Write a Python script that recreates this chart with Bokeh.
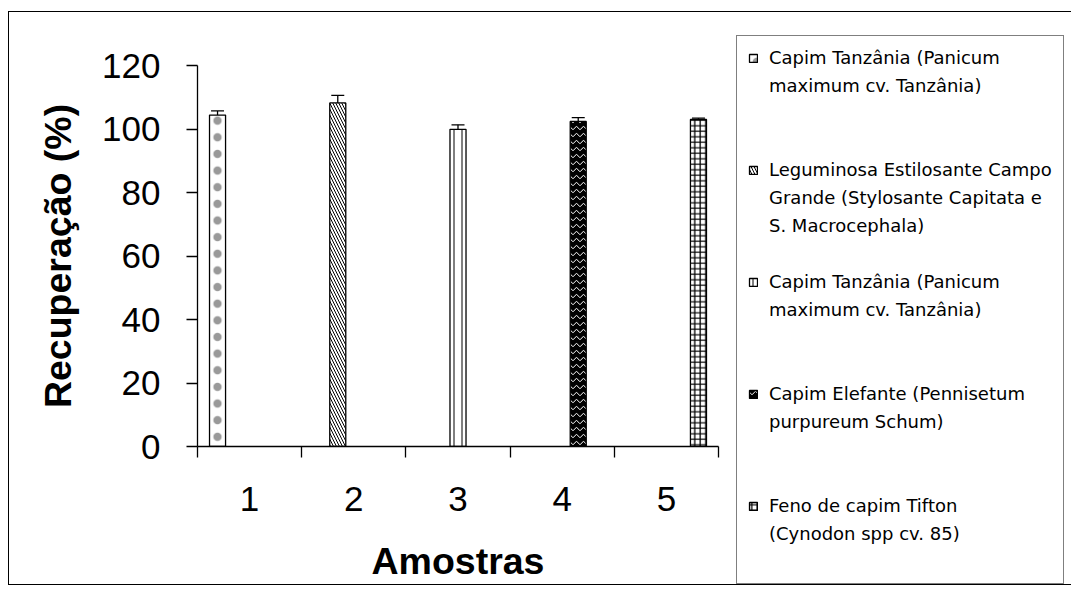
import numpy as np
from bokeh.plotting import figure
from bokeh.models import (ColumnDataSource, Whisker, TeeHead, Legend, LegendItem,
                          FixedTicker, Range1d)
from bokeh.transform import dodge
from bokeh.embed import file_html
from bokeh.resources import INLINE

# ---------------- data ----------------
samples = [1, 2, 3, 4, 5]
sample_labels = ["1", "2", "3", "4", "5"]
recovery = [104.4, 108.2, 99.9, 102.4, 103.0]
errors = [1.3, 2.4, 1.4, 1.2, 0.4]
series_names = [
    ["Capim Tanzânia (Panicum", "maximum cv. Tanzânia)"],
    ["Leguminosa Estilosante Campo", "Grande (Stylosante Capitata e", "S. Macrocephala)"],
    ["Capim Tanzânia (Panicum", "maximum cv. Tanzânia)"],
    ["Capim Elefante (Pennisetum", "purpureum Schum)"],
    ["Feno de capim Tifton", "(Cynodon spp cv. 85)"],
]
y_ticks = [0, 20, 40, 60, 80, 100, 120]
x_title = "Amostras"
y_title = "Recuperação (%)"

# ---------------- styles ----------------
hatch_patterns = [".", "\\", "|", "v", "+"]
fill_colors = ["white", "white", "white", "black", "white"]
hatch_colors = ["black", "black", "black", "white", "black"]
hatch_alphas = [0.4, 1, 1, 1, 1]
hatch_scales = [16.64, 6, 8, 7, 5.5]
hatch_weights = [1, 1, 1, 1, 1.3]
legend_gaps = [2, 1, 2, 2, 1]        # blank legend rows after each entry
n_series = len(series_names)
gap_width = 1.5                      # Excel gap width 150 %
bar_w = 1.0 / (n_series + gap_width)

p = figure(frame_width=521, frame_height=381,
           x_range=Range1d(0.5, 5.5), y_range=Range1d(0, 120),
           output_backend="svg", toolbar_location=None,
           min_border_left=188, min_border_right=346,
           min_border_top=53, min_border_bottom=138)
p.styles = {"outline": "1px solid black", "outline-offset": "0px",
            "margin-top": "12px", "margin-left": "9px"}
p.outline_line_color = None
p.background_fill_color = "white"
p.border_fill_color = "white"
p.xgrid.visible = False
p.ygrid.visible = False

# invisible renderer used for the continuation rows of the legend
blank = p.vbar(x=[], top=[], width=bar_w, fill_alpha=0, line_alpha=0)

items = []
for j in range(n_series):
    src = ColumnDataSource(dict(
        x=[samples[j]],
        top=[recovery[j]],
        upper=[recovery[j] + errors[j]],
        lower=[recovery[j] - errors[j]],
    ))
    off = (j - (n_series - 1) / 2) * bar_w
    r = p.vbar(x=dodge("x", off), top="top", bottom=0, width=bar_w, source=src,
               fill_color=fill_colors[j], line_color="black", line_width=1.3,
               hatch_pattern=hatch_patterns[j], hatch_color=hatch_colors[j],
               hatch_alpha=hatch_alphas[j],
               hatch_scale=hatch_scales[j], hatch_weight=hatch_weights[j])
    w = Whisker(source=src, base=dodge("x", off), upper="upper", lower="lower",
                dimension="height", line_color="black", line_width=1.3,
                upper_head=TeeHead(size=13, line_color="black", line_width=1.3),
                lower_head=TeeHead(size=13, line_color="black", line_width=1.3))
    p.add_layout(w)
    lines = series_names[j]
    items.append(LegendItem(label=lines[0], renderers=[r]))
    for ln in lines[1:]:
        items.append(LegendItem(label=ln, renderers=[blank]))
    for _ in range(legend_gaps[j]):
        items.append(LegendItem(label=" ", renderers=[blank]))

# ---------------- axes ----------------
xa = p.xaxis[0]
xa.ticker = FixedTicker(ticks=samples,
                        minor_ticks=list(np.array(samples) - 0.5) + [samples[-1] + 0.5])
xa.major_label_overrides = {s: l for s, l in zip(samples, sample_labels)}
xa.major_tick_out = 0
xa.major_tick_in = 0
xa.minor_tick_out = 11
xa.minor_tick_in = 0
xa.minor_tick_line_color = "black"
xa.minor_tick_line_width = 1.3
xa.axis_line_color = "black"
xa.axis_line_width = 1.3
xa.major_label_text_font = "Liberation Sans"
xa.major_label_text_font_size = "35px"
xa.major_label_text_color = "black"
xa.major_label_standoff = 29
xa.axis_label = x_title
xa.axis_label_text_font = "Liberation Sans"
xa.axis_label_text_font_size = "37.5px"
xa.axis_label_text_font_style = "bold"
xa.axis_label_text_color = "black"
xa.axis_label_standoff = 26

ya = p.yaxis[0]
ya.ticker = FixedTicker(ticks=y_ticks)
ya.major_tick_out = 11
ya.major_tick_in = 0
ya.minor_tick_out = 0
ya.minor_tick_in = 0
ya.major_tick_line_color = "black"
ya.major_tick_line_width = 1.3
ya.axis_line_color = "black"
ya.axis_line_width = 1.3
ya.major_label_text_font = "Liberation Sans"
ya.major_label_text_font_size = "35px"
ya.major_label_text_color = "black"
ya.major_label_standoff = 26
ya.axis_label = y_title
ya.axis_label_text_font = "Liberation Sans"
ya.axis_label_text_font_size = "37.5px"
ya.axis_label_text_font_style = "bold"
ya.axis_label_text_color = "black"
ya.axis_label_standoff = 20

# ---------------- legend ----------------
legend = Legend(items=items, location=(18, -138), orientation="vertical",
                border_line_color="black", border_line_width=1,
                background_fill_color="white", background_fill_alpha=1,
                label_text_font="DejaVu Sans", label_text_font_size="18px",
                label_text_color="black",
                glyph_width=10, glyph_height=10, label_standoff=11,
                label_height=21, padding=11, spacing=7, margin=0)
p.add_layout(legend, "right")

open("out.html", "w").write(file_html(p, INLINE))
